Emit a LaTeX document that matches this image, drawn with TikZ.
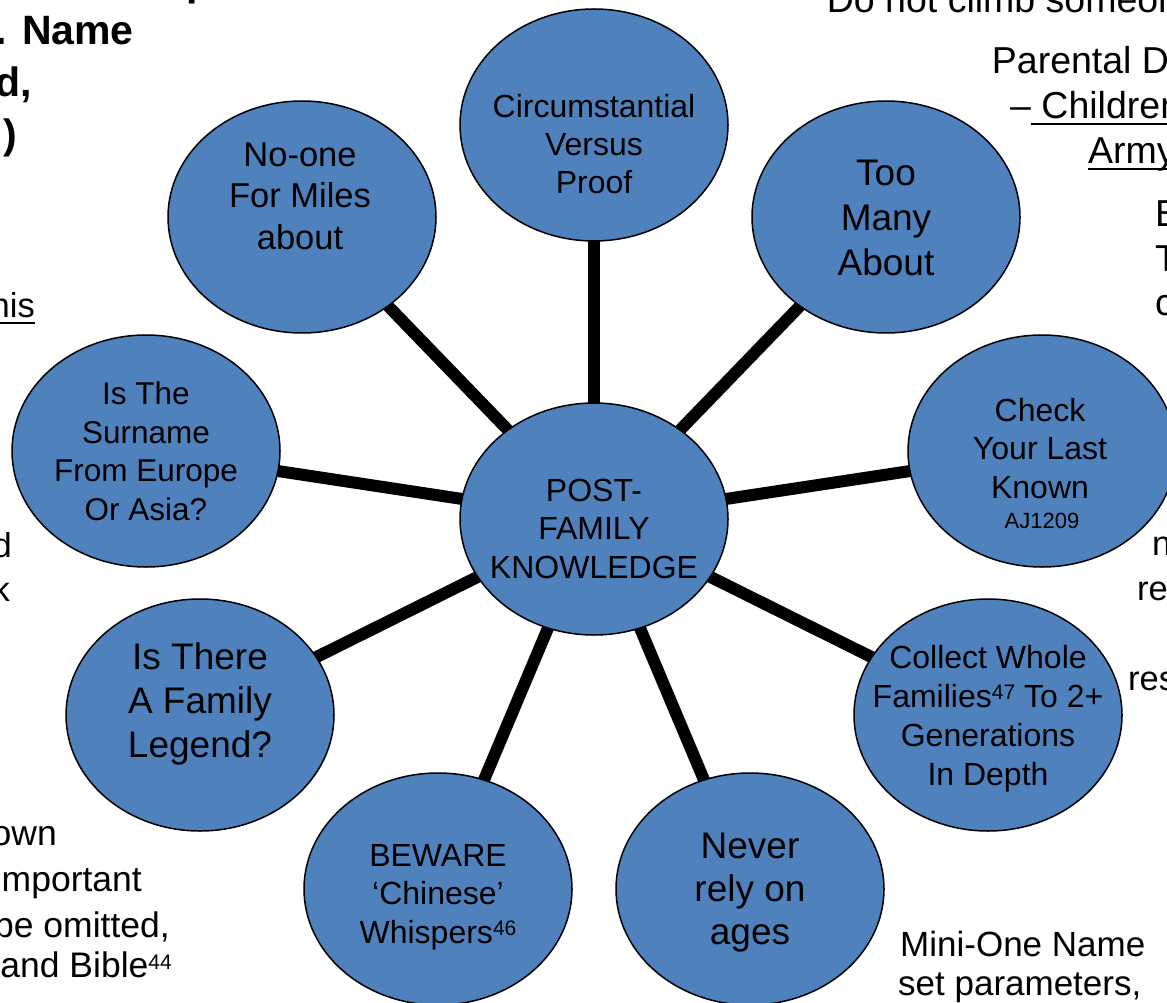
\documentclass[tikz,border=0pt]{standalone}
\usepackage{fontspec}
\setmainfont{Liberation Sans}
\usetikzlibrary{shapes.geometric,backgrounds}
\definecolor{bubblue}{HTML}{4F81BD}
\newcommand\myul[1]{\setbox0\hbox{#1}\rlap{\rule[-7pt]{\wd0}{2pt}}\box0}
\newcommand\mysup[1]{\raisebox{7.5pt}{\fontsize{21}{21}\selectfont #1}}
\begin{document}
\begin{tikzpicture}[x=1pt,y=-1pt,
  bub/.style={ellipse,draw=black,line width=1.5pt,fill=bubblue,minimum width=268pt,minimum height=232pt,inner sep=0pt},
  conn/.style={line width=12pt,black},
  tx/.style 2 args={align=center,inner sep=0pt,font=\fontsize{#1}{#2}\selectfont},
  side/.style={inner sep=0pt,font=\fontsize{34.5}{41}\selectfont},
  botl/.style={inner sep=0pt,font=\fontsize{35.5}{41}\selectfont},
  rt/.style={inner sep=0pt,font=\fontsize{37.5}{44.5}\selectfont},
  boldt/.style={inner sep=0pt,font=\fontsize{41}{52}\selectfont\bfseries}]
\useasboundingbox (0,0) rectangle (1167,1003);
% bubbles
\node[bub] (ctr) at (594,519) {};
\node[bub] (top) at (594,125) {};
\node[bub] (nw) at (302,217) {};
\node[bub] (ne) at (886,217) {};
\node[bub] (w) at (146,451) {};
\node[bub] (e) at (1042,451) {};
\node[bub] (sw) at (200,715) {};
\node[bub] (se) at (988,715) {};
\node[bub] (sl) at (438,889) {};
\node[bub] (sr) at (750,889) {};
% connectors
\begin{pgfonlayer}{background}
\fill[white] (0,0) rectangle (1167,1003);
\foreach \n in {top,nw,ne,w,e,sw,se,sl,sr}
  \draw[conn] (ctr.center) -- (\n.center);
\end{pgfonlayer}
% bubble texts
\node[tx={32}{38.5}] (ttop) at (594,147.8) {\strut Circumstantial\\\strut Versus\\\strut Proof};
\node[tx={34.5}{41.5}] (tnw) at (300,199.2) {\strut No-one\\\strut For Miles\\\strut about};
\node[tx={37}{45}] (tne) at (886,221) {\strut Too\\\strut Many\\\strut About};
\node[tx={31.5}{38.5}] (tw) at (146,455) {\strut Is The\\\strut Surname\\\strut From Europe\\\strut Or Asia?};
\node[tx={32}{38.2}] (tctr) at (594,532.3) {\strut POST-\\\strut FAMILY\\\strut KNOWLEDGE};
\node[tx={32}{38.3}] (te) at (1040,452.3) {\strut Check\\\strut Your Last\\\strut Known};
\node[inner sep=0pt,font=\fontsize{22}{26}\selectfont,anchor=base] (taj) at (1042,528.7) {AJ1209};
\node[tx={32}{39}] (tse) at (988,719) {\strut Collect Whole\\\strut Families\mysup{47} To 2+\\\strut Generations\\\strut In Depth};
\node[tx={37}{44.2}] (tsw) at (200,704.7) {\strut Is There\\\strut A Family\\\strut Legend?};
\node[tx={32}{38.3}] (tsl) at (438,897.3) {\strut BEWARE\\\strut ‘Chinese’\\\strut Whispers\mysup{46}};
\node[tx={37}{43.3}] (tsr) at (750,893) {\strut Never\\\strut rely on\\\strut ages};
% top-left bold fragments
\node[boldt,anchor=base east] (b1) at (134,45) {. Name};
\node[boldt,anchor=base east] (b2) at (32,97) {d,};
\node[boldt,anchor=base east] (b3) at (17,149) {)};
\node[boldt,anchor=base west] (b0) at (186,-4) {p};
% top-right fragments
\node[rt,anchor=base west] (r1) at (826.7,13) {Do not climb someone};
\node[rt,anchor=base west] (r2) at (991.7,74) {Parental D};
\node[rt,anchor=base west] (r3) at (1010,118.3) {–\myul{\ Children}};
\node[rt,anchor=base west] (r4) at (1088,163.3) {\myul{Army}};
\node[rt,anchor=base west] (r5) at (1155,226.7) {B};
\node[rt,anchor=base west] (r6) at (1155,271.7) {T};
\node[rt,anchor=base west] (r7) at (1155,315) {c};
% right-middle fragments
\node[side,anchor=base west] (m1) at (1152,555) {n};
\node[side,anchor=base west] (m2) at (1137,600) {re};
\node[side,anchor=base west] (m3) at (1128,690) {res};
% left fragments
\node[side,anchor=base east] (l1) at (35,317) {\myul{his}};
\node[side,anchor=base east] (l2) at (12,557) {d};
\node[side,anchor=base east] (l3) at (10,601) {k};
% bottom-left fragments
\node[botl,anchor=base east] (bl1) at (57,845) {own};
\node[botl,anchor=base east] (bl2) at (142,891) {mportant};
\node[botl,anchor=base east] (bl3) at (170,937) {be omitted,};
\node[botl,anchor=base east] (bl4) at (172,977) {and Bible\mysup{44}};
% bottom-right fragments
\node[inner sep=0pt,font=\fontsize{35}{40}\selectfont,anchor=base west] (br1) at (900,956) {Mini-One Name};
\node[inner sep=0pt,font=\fontsize{35}{40}\selectfont,anchor=base west] (br2) at (898,995) {set parameters,};
\end{tikzpicture}
\end{document}
